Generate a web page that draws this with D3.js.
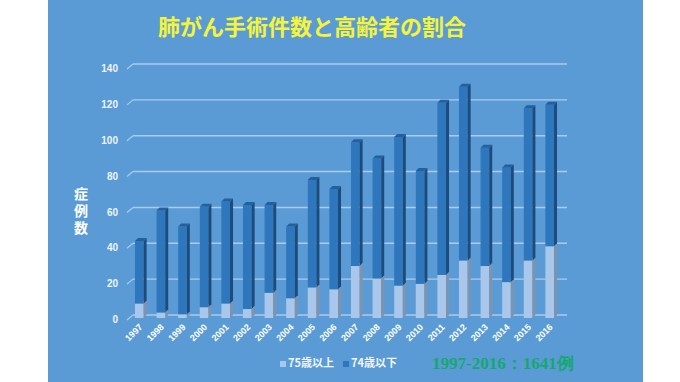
<!DOCTYPE html>
<html><head><meta charset="utf-8">
<script src="https://cdn.jsdelivr.net/npm/d3@7"></script>
<style>
html,body{margin:0;padding:0;background:#fff;}
svg{display:block;}
</style></head>
<body>
<svg id="chart" width="680" height="382"></svg>
<script>
const years = ["1997","1998","1999","2000","2001","2002","2003","2004","2005","2006","2007","2008","2009","2010","2011","2012","2013","2014","2015","2016"];
const elderly = [8,3,2,6,8,5,14,11,17,16,29,22,18,19,24,32,29,20,32,40];      // 75歳以上
const younger = [35,57,49,56,57,58,49,40,60,56,69,67,83,63,96,97,66,64,85,79]; // 74歳以下
const yTicks = [0,20,40,60,80,100,120,140];
const seriesNames = ["75歳以上","74歳以下"];
const title = "肺がん手術件数と高齢者の割合";
const yTitle = "症例数";
const note = "1997-2016：1641例";

const svg = d3.select("#chart");
const jp = "'Noto Sans CJK JP','Noto Sans',sans-serif";
const lat = "'Liberation Sans',Arial,sans-serif";

svg.append("rect").attr("x",48).attr("y",0).attr("width",595).attr("height",382).attr("fill","#5b9bd5");

const dx = 3, dy = 3;
const x = d3.scaleBand().domain(years).range([128.5,560.5]).paddingInner(0.6).paddingOuter(0.3);
const y = d3.scaleLinear().domain([0,140]).range([318,67]);

// gridlines (back wall) + diagonals
const grid = svg.append("g");
yTicks.forEach(v=>{
  grid.append("line").attr("x1",133).attr("x2",567).attr("y1",y(v)-dy).attr("y2",y(v)-dy)
    .attr("stroke","#a9cbee").attr("stroke-width",1.4);
  grid.append("line").attr("x1",127).attr("x2",133).attr("y1",y(v)+2).attr("y2",y(v)-dy)
    .attr("stroke","#a9cbee").attr("stroke-width",1.2);
});

// y axis labels
svg.append("g").selectAll("text").data(yTicks).join("text")
  .attr("x",118).attr("y",v=>y(v)+2.5).attr("text-anchor","end").attr("dominant-baseline","middle")
  .attr("font-family",lat).attr("font-weight","bold").attr("font-size",10).attr("fill","#eef4fb")
  .text(v=>v);

// y title (vertical writing)
svg.append("text").attr("x",81).attr("y",187)
  .style("writing-mode","vertical-rl").style("letter-spacing","2.6px")
  .attr("font-family",jp).attr("font-weight","bold").attr("font-size",14).attr("fill","#ffffff")
  .text(yTitle);

// bars
const styles = [
  {front:"#a8c7ea", side:"#7e93ad", top:"#c2d7ef"},
  {front:"#2e77bd", side:"#1d4c7c", top:"#24609b"}
];
const barsG = svg.append("g");
years.forEach((yr,i)=>{
  const x0 = x(yr), w = x.bandwidth();
  const segs = [[0, elderly[i]], [elderly[i], elderly[i]+younger[i]]];
  segs.forEach((s,k)=>{
    const st = styles[k];
    const yb = y(s[0]), ytop = y(s[1]);
    barsG.append("rect").attr("x",x0).attr("y",ytop).attr("width",w).attr("height",yb-ytop).attr("fill",st.front);
    barsG.append("path").attr("d",`M${x0+w},${yb}L${x0+w+dx},${yb-dy}L${x0+w+dx},${ytop-dy}L${x0+w},${ytop}Z`).attr("fill",st.side);
    barsG.append("path").attr("d",`M${x0},${ytop}L${x0+dx},${ytop-dy}L${x0+w+dx},${ytop-dy}L${x0+w},${ytop}Z`).attr("fill",st.top);
  });
});

// x labels
svg.append("g").selectAll("text").data(years).join("text")
  .attr("transform",d=>`translate(${x(d)+x.bandwidth()/2+2},${326}) rotate(-45)`)
  .attr("text-anchor","end").attr("dominant-baseline","middle")
  .attr("font-family",lat).attr("font-weight","bold").attr("font-size",9).attr("fill","#ffffff")
  .text(d=>d);

// title
svg.append("text").attr("x",312).attr("y",29).attr("text-anchor","middle").attr("dominant-baseline","middle")
  .attr("font-family",jp).attr("font-weight","bold").attr("font-size",22).attr("fill","#f4f43c").text(title);

// legend
const lg = svg.append("g");
const lx = [280, 343];
seriesNames.forEach((n,i)=>{
  lg.append("rect").attr("x",lx[i]).attr("y",361).attr("width",6).attr("height",6).attr("fill",styles[i].front);
  lg.append("text").attr("x",lx[i]+8).attr("y",364.5).attr("dominant-baseline","middle")
    .attr("font-family",jp).attr("font-weight","bold").attr("font-size",11).attr("fill","#f2f6fb").text(n);
});

// note
svg.append("text").attr("x",432).attr("y",365).attr("dominant-baseline","middle")
  .attr("font-family","'Liberation Serif','DejaVu Serif',serif").attr("font-weight","bold").attr("font-size",17)
  .attr("fill","#14a86e").text(note);
</script>
</body></html>
